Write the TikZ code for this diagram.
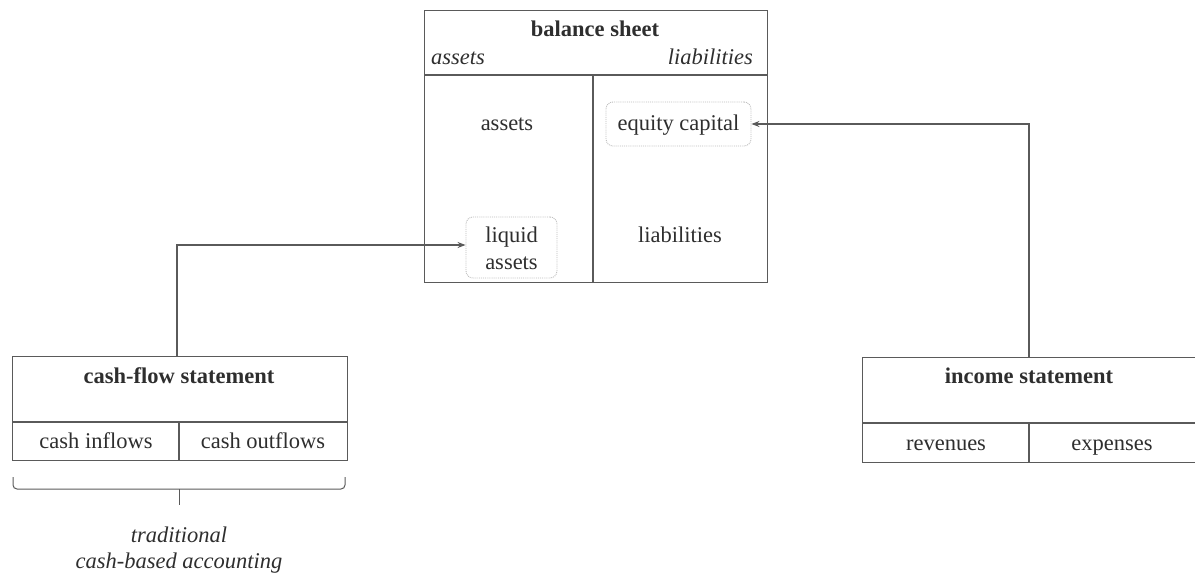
\documentclass[tikz,border=0pt]{standalone}
\usepackage{fontspec}
\setmainfont{Liberation Serif}
\usetikzlibrary{arrows.meta}
\definecolor{linec}{HTML}{5A5A5A}
\definecolor{textc}{HTML}{2E2E2E}
\definecolor{dotc}{HTML}{BBBBBB}
\begin{document}
\begin{tikzpicture}[x=1pt,y=-1pt,
  every node/.style={font=\fontsize{22.5}{27}\selectfont, text=textc, inner sep=0pt},
  lbl/.style={anchor=base},
  boxc/.style={draw=linec, line width=1.2pt, rectangle, anchor=north west},
  sub/.style={draw=dotc, densely dotted, rounded corners=7pt, line width=0.9pt, rectangle, inner sep=0pt},
  conn/.style={draw=linec, line width=1.1pt},
  arr/.style={conn, -{Stealth[length=8pt,width=6pt]}}]
\useasboundingbox (0,0) rectangle (1195,577);
% balance sheet
\node[boxc, minimum width=343pt, minimum height=272pt] (bs) at (424,10) {};
\draw[conn] (424,75) -- (767,75);
\draw[conn] (593,75) -- (593,282);
\node[lbl, font=\fontsize{22.5}{27}\selectfont\bfseries] (bst) at (595,37) {balance sheet};
\node[lbl, font=\fontsize{22.5}{27}\selectfont\itshape, anchor=base west] (bsa) at (431,65) {assets};
\node[lbl, font=\fontsize{22.5}{27}\selectfont\itshape, anchor=base east] (bsl) at (753,65) {liabilities};
\node[lbl] (assets) at (507,131) {assets};
\node[lbl] (liab) at (680,243) {liabilities};
\node[sub, minimum width=145pt, minimum height=44pt] (eq) at (678.5,124) {};
\node[lbl] (eqt) at (678.5,131) {equity capital};
\node[sub, minimum width=91pt, minimum height=61pt] (liq) at (511.5,247.5) {};
\node[align=center] (liqt) at (511.5,248) {liquid\\assets};
% cash-flow statement
\node[boxc, minimum width=335pt, minimum height=104pt] (cf) at (12,356) {};
\draw[conn] (12,422) -- (347,422);
\draw[conn] (179,422) -- (179,460);
\node[lbl, font=\fontsize{22.5}{27}\selectfont\bfseries] (cft) at (179,384) {cash-flow statement};
\node[lbl] (cfi) at (96,448) {cash inflows};
\node[lbl] (cfo) at (263,448) {cash outflows};
% income statement
\node[boxc, minimum width=333pt, minimum height=105pt] (is) at (862,357) {};
\draw[conn] (862,423) -- (1195,423);
\draw[conn] (1029,423) -- (1029,462);
\node[lbl, font=\fontsize{22.5}{27}\selectfont\bfseries] (ist) at (1029,384) {income statement};
\node[lbl] (isr) at (946,450) {revenues};
\node[lbl] (ise) at (1112,450) {expenses};
% brace
\draw[draw=linec, line width=1pt, rounded corners=4pt] (13,477) -- (13,489) -- (345,489) -- (345,477);
\draw[draw=linec, line width=1pt] (179,489) -- (179,505);
\node[font=\fontsize{22.5}{26}\selectfont\itshape, align=center] (trad) at (179,550) {traditional\\cash-based accounting};
% connectors
\coordinate (c1) at (177,245);
\draw[arr] (cf.north west -| c1) -- (c1) -- (c1 -| liq.west);
\coordinate (c2) at (1029,124);
\draw[arr] (is.north west -| c2) -- (c2) -- (c2 -| eq.east);
\end{tikzpicture}
\end{document}
